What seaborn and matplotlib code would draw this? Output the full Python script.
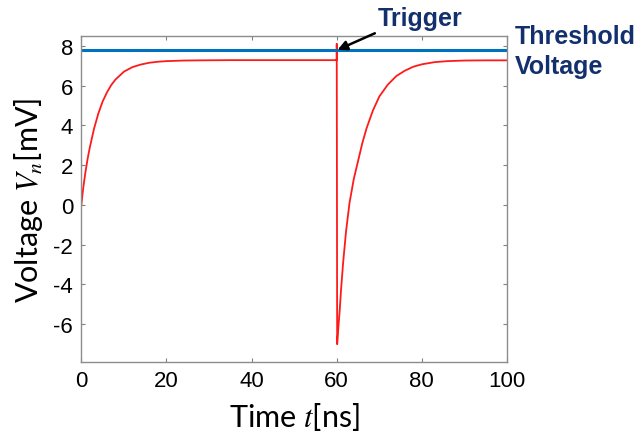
import numpy as np
import pandas as pd
import seaborn as sns
from matplotlib import pyplot as plt

# values
time_ns = [0, 0.5, 1, 1.5, 2, 3, 4, 5, 6, 7, 8, 10, 12, 14, 16, 18, 20, 24, 28, 35, 45, 59.9,
           60.0, 60.0, 60.1, 60.4, 60.7, 61.0, 61.5, 62.2, 63.0, 64.0, 65.0, 66.0, 67.0, 68.5,
           70.0, 72.0, 74.0, 76.0, 78.0, 80.0, 83.0, 86.0, 90.0, 95.0, 100.0]
voltage_mv = [0, 0.95, 1.7, 2.35, 2.9, 3.85, 4.6, 5.2, 5.65, 6.02, 6.3, 6.7, 6.93, 7.06, 7.15, 7.2, 7.23, 7.26, 7.27, 7.28, 7.28, 7.28,
              7.28, 8.1, -7.0, -6.1, -5.3, -4.3, -2.9, -1.3, 0.1, 1.3, 2.2, 3.1, 3.85, 4.75,
              5.45, 6.05, 6.48, 6.75, 6.95, 7.07, 7.18, 7.23, 7.26, 7.27, 7.27]
threshold_t = [0, 100]
threshold_v = [7.78, 7.78]

curve = pd.DataFrame({'t': time_ns, 'V': voltage_mv})
thresh = pd.DataFrame({'t': threshold_t, 'V': threshold_v})

sns.set_style('white')
plt.rcParams['font.family'] = ['Liberation Sans', 'DejaVu Sans']
plt.rcParams['mathtext.fontset'] = 'stix'
plt.rcParams['axes.unicode_minus'] = False

fig = plt.figure(figsize=(6.43, 4.39), dpi=100)
ax = fig.add_axes([0.1265, 0.173, 0.662, 0.743])

sns.lineplot(data=curve, x='t', y='V', sort=False, estimator=None, color='#ff1a1a', linewidth=1.3, ax=ax)
sns.lineplot(data=thresh, x='t', y='V', estimator=None, color='#0072bd', linewidth=2.2, ax=ax)

ax.set_xlim(0, 100)
ax.set_ylim(-7.9, 8.5)
ax.set_xticks([0, 20, 40, 60, 80, 100])
ax.set_yticks([-6, -4, -2, 0, 2, 4, 6, 8])
ax.tick_params(direction='in', length=3, width=0.8, color='#808080', labelsize=16,
               labelcolor='black', top=True, right=True, bottom=True, left=True, pad=6)
for s in ax.spines.values():
    s.set_color('#8c8c8c')
    s.set_linewidth(1.0)

ax.set_xlabel('Time $t$[ns]', fontsize=22, family='Lato', color='black', labelpad=6)
ax.set_ylabel('Voltage $V_n$[mV]', fontsize=22, family='Lato', color='black', labelpad=6)

navy = '#13306e'
ax.annotate('Trigger', xy=(60.2, 7.8), xytext=(378, 432), textcoords='figure pixels',
            fontsize=18, fontweight='bold', color=navy,
            va='top', ha='left',
            arrowprops=dict(arrowstyle='-|>', color='black', lw=1.8, mutation_scale=14,
                            shrinkA=0, shrinkB=0, relpos=(0.05, 0.0)))
fig.text(515, 414, 'Threshold\nVoltage', transform=None, fontsize=18, fontweight='bold',
         color=navy, va='top', ha='left', linespacing=1.3)

fig.savefig('out.png', dpi=100)
